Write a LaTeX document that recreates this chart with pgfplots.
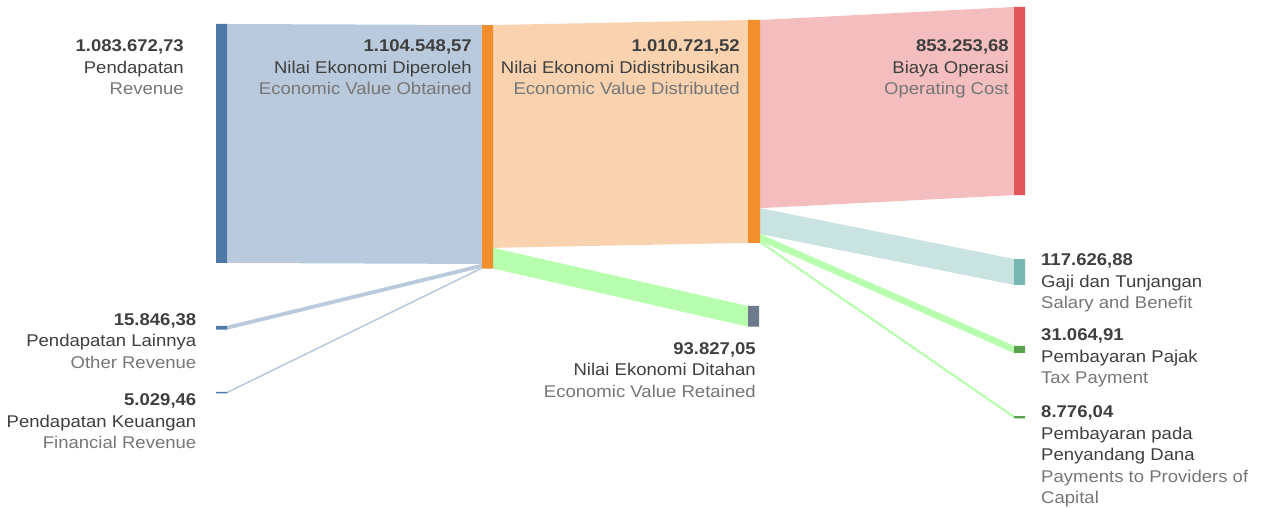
\documentclass[border=0pt]{standalone}
\usepackage{pgfplots}
\pgfplotsset{compat=1.18}
\usepackage{fontspec}
\setmainfont{Liberation Sans}[FakeStretch=1.09]
\definecolor{revnode}{HTML}{4E79A7}
\definecolor{revlink}{HTML}{B9CADD}
\definecolor{orangenode}{HTML}{F28E2B}
\definecolor{evdlink}{HTML}{F9D3B0}
\definecolor{retnode}{HTML}{6C7A8C}
\definecolor{greenlink}{HTML}{B7FFAE}
\definecolor{opnode}{HTML}{E15759}
\definecolor{oplink}{HTML}{F4BEBE}
\definecolor{salnode}{HTML}{76B7B2}
\definecolor{sallink}{HTML}{C9E3E1}
\definecolor{taxnode}{HTML}{59A14F}
\definecolor{txtdark}{HTML}{3F3F3F}
\definecolor{txtgray}{HTML}{767676}
\newcommand{\fs}{\fontsize{17}{20}\selectfont}
\newcommand{\lab}[6]{%
 \node[anchor=#1,font=\fs\bfseries,text=txtdark,inner sep=0pt] at (axis cs:#2,#3) {#4};
 \node[anchor=#1,font=\fs,text=txtdark,inner sep=0pt,yshift=-21.5pt] at (axis cs:#2,#3) {#5};
 \node[anchor=#1,font=\fs,text=txtgray,inner sep=0pt,yshift=-43pt] at (axis cs:#2,#3) {#6};
}
\begin{document}
\begin{tikzpicture}
\begin{axis}[width=1265pt,height=508pt,scale only axis,
  xmin=0,xmax=1265,ymin=0,ymax=2303.8,y dir=reverse,
  hide axis,clip=false]
\path (axis cs:0,0) rectangle (axis cs:1265,2303.8);
% ---- flows (y in thousands of value) ----
\addplot[draw=none,fill=revlink] coordinates {(227,108.8) (482,113.4) (482,1197.1) (227,1192.5) (227,108.8)};
\addplot[draw=revlink,line width=0.3pt,fill=revlink] coordinates {(227,1478.4) (482,1197.1) (482,1212.9) (227,1494.3) (227,1478.4)};
\addplot[draw=revlink,line width=0.5pt,fill=revlink] coordinates {(227,1777.7) (482,1212.9) (482,1217.9) (227,1782.8) (227,1777.7)};
\addplot[draw=none,fill=evdlink] coordinates {(493,113.4) (748,90.7) (748,1101.4) (493,1124.1) (493,113.4)};
\addplot[draw=none,fill=greenlink] coordinates {(493,1124.1) (748,1387.7) (748,1481.5) (493,1217.9) (493,1124.1)};
\addplot[draw=none,fill=oplink] coordinates {(760,90.7) (1014,31.7) (1014,885.0) (760,944.0) (760,90.7)};
\addplot[draw=none,fill=sallink] coordinates {(760,944.0) (1014,1174.6) (1014,1292.2) (760,1061.6) (760,944.0)};
\addplot[draw=greenlink,line width=0.3pt,fill=greenlink] coordinates {(760,1061.6) (1014,1569.1) (1014,1600.2) (760,1092.7) (760,1061.6)};
\addplot[draw=greenlink,line width=0.5pt,fill=greenlink] coordinates {(760,1092.7) (1014,1886.6) (1014,1895.4) (760,1101.4) (760,1092.7)};
% ---- nodes ----
\addplot[draw=none,fill=revnode] coordinates {(216,108.8) (227,108.8) (227,1192.5) (216,1192.5) (216,108.8)};
\addplot[draw=none,fill=revnode] coordinates {(216,1478.4) (227,1478.4) (227,1494.3) (216,1494.3) (216,1478.4)};
\addplot[draw=none,fill=revnode] coordinates {(216,1777.7) (227,1777.7) (227,1784.0) (216,1784.0) (216,1777.7)};
\addplot[draw=none,fill=orangenode] coordinates {(482,113.4) (493,113.4) (493,1217.9) (482,1217.9) (482,113.4)};
\addplot[draw=none,fill=orangenode] coordinates {(748,90.7) (760,90.7) (760,1101.4) (748,1101.4) (748,90.7)};
\addplot[draw=none,fill=retnode] coordinates {(748,1387.7) (759,1387.7) (759,1481.5) (748,1481.5) (748,1387.7)};
\addplot[draw=none,fill=opnode] coordinates {(1014,31.7) (1025,31.7) (1025,885.0) (1014,885.0) (1014,31.7)};
\addplot[draw=none,fill=salnode] coordinates {(1014,1174.6) (1025,1174.6) (1025,1292.2) (1014,1292.2) (1014,1174.6)};
\addplot[draw=none,fill=taxnode] coordinates {(1014,1569.1) (1025,1569.1) (1025,1600.2) (1014,1600.2) (1014,1569.1)};
\addplot[draw=none,fill=taxnode] coordinates {(1014,1886.6) (1025,1886.6) (1025,1897.0) (1014,1897.0) (1014,1886.6)};
% ---- labels ----
\lab{base east}{184}{235.8}{1.083.672,73}{Pendapatan}{Revenue}
\lab{base east}{472}{235.8}{1.104.548,57}{Nilai Ekonomi Diperoleh}{Economic Value Obtained}
\lab{base east}{740}{235.8}{1.010.721,52}{Nilai Ekonomi Didistribusikan}{Economic Value Distributed}
\lab{base east}{1009}{235.8}{853.253,68}{Biaya Operasi}{Operating Cost}
\lab{base east}{196.5}{1473.9}{15.846,38}{Pendapatan Lainnya}{Other Revenue}
\lab{base east}{196.5}{1839.8}{5.029,46}{Pendapatan Keuangan}{Financial Revenue}
\lab{base east}{756}{1605.4}{93.827,05}{Nilai Ekonomi Ditahan}{Economic Value Retained}
\lab{base west}{1041}{1205.0}{117.626,88}{Gaji dan Tunjangan}{Salary and Benefit}
\lab{base west}{1041}{1546.4}{31.064,91}{Pembayaran Pajak}{Tax Payment}
\node[anchor=base west,font=\fs\bfseries,text=txtdark,inner sep=0pt] at (axis cs:1041,1894.3) {8.776,04};
\node[anchor=base west,font=\fs,text=txtdark,inner sep=0pt,yshift=-21.5pt] at (axis cs:1041,1894.3) {Pembayaran pada};
\node[anchor=base west,font=\fs,text=txtdark,inner sep=0pt,yshift=-43pt] at (axis cs:1041,1894.3) {Penyandang Dana};
\node[anchor=base west,font=\fs,text=txtgray,inner sep=0pt,yshift=-64.5pt] at (axis cs:1041,1894.3) {Payments to Providers of};
\node[anchor=base west,font=\fs,text=txtgray,inner sep=0pt,yshift=-86pt] at (axis cs:1041,1894.3) {Capital};
\end{axis}
\end{tikzpicture}
\end{document}
